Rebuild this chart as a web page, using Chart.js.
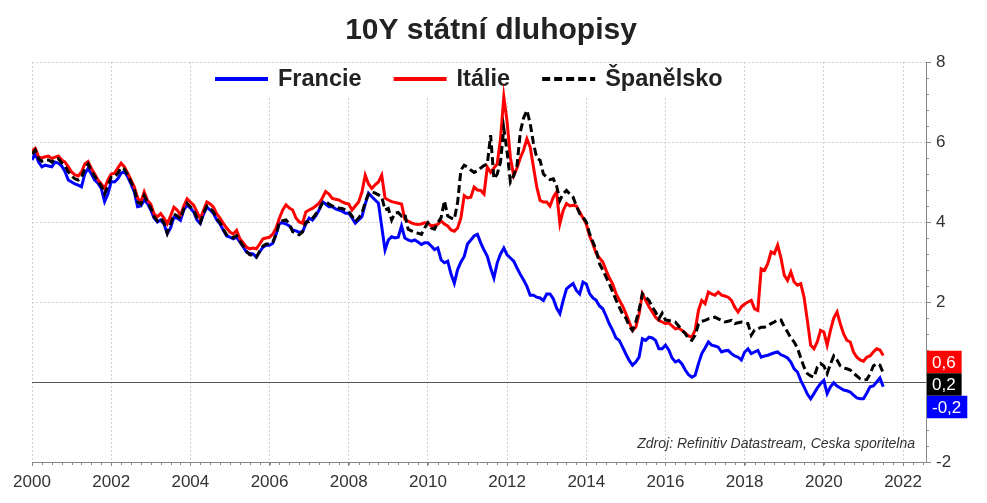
<!DOCTYPE html>
<html>
<head>
<meta charset="utf-8">
<script src="https://cdn.jsdelivr.net/npm/chart.js@4.4.1/dist/chart.umd.min.js"></script>
<style>
  body { margin: 0; background: #fff; }
</style>
</head>
<body>
<canvas id="bondChart" width="987" height="503"></canvas>
<script>
// 10Y yields, monthly values from Jan 2000
const startYear = 2000;

const france = [
  5.55, 5.72, 5.5, 5.38, 5.42, 5.4, 5.38, 5.5, 5.47, 5.4, 5.26, 5.05,      // 2000
  5.0, 4.95, 4.92, 4.88, 5.2, 5.34, 5.2, 5.05, 4.97, 4.84, 4.51, 4.7,      // 2001
  5.01, 5.0, 5.08, 5.22, 5.26, 5.13, 4.95, 4.75, 4.38, 4.4, 4.55, 4.46,    // 2002
  4.3, 4.1, 4.0, 4.05, 3.95, 3.71, 3.85, 4.12, 4.1, 4.04, 4.3, 4.42,       // 2003
  4.35, 4.25, 4.05, 3.96, 4.2, 4.37, 4.3, 4.21, 4.05, 3.95, 3.79, 3.65,    // 2004
  3.62, 3.58, 3.62, 3.5, 3.38, 3.25, 3.21, 3.2, 3.12, 3.25, 3.37, 3.42,    // 2005
  3.42, 3.47, 3.7, 3.97, 3.98, 3.95, 3.9, 3.8, 3.78, 3.74, 3.76, 3.95,     // 2006
  4.1, 4.05, 4.15, 4.3, 4.51, 4.45, 4.38, 4.38, 4.33, 4.3, 4.27, 4.22,     // 2007
  4.22, 4.1, 3.97, 4.05, 4.13, 4.45, 4.72, 4.63, 4.55, 4.47, 3.88, 3.3,    // 2008
  3.55, 3.63, 3.6, 3.62, 3.9, 3.6, 3.55, 3.52, 3.55, 3.5, 3.44, 3.48,      // 2009
  3.48, 3.4, 3.31, 3.35, 3.05, 2.98, 3.02, 2.7, 2.47, 2.81, 3.0, 3.14,     // 2010
  3.45, 3.55, 3.65, 3.69, 3.48, 3.3, 3.14, 2.85, 2.6, 2.98, 3.2, 3.35,     // 2011
  3.18, 3.1, 3.02, 2.85, 2.69, 2.55, 2.39, 2.17, 2.17, 2.12, 2.1, 2.04,    // 2012
  2.2, 2.2, 2.08, 1.85, 1.71, 2.04, 2.33, 2.4, 2.46, 2.29, 2.2, 2.5,       // 2013
  2.45, 2.21, 2.1, 2.04, 1.9, 1.83, 1.65, 1.45, 1.29, 1.1, 1.04, 0.87,     // 2014
  0.7, 0.54, 0.42, 0.5, 0.62, 1.08, 1.04, 1.12, 1.1, 1.04, 0.83, 0.83,     // 2015
  0.92, 0.8, 0.6, 0.5, 0.54, 0.45, 0.3, 0.18, 0.12, 0.17, 0.46, 0.71,      // 2016
  0.85, 1.0, 0.92, 0.9, 0.87, 0.75, 0.78, 0.79, 0.71, 0.65, 0.62, 0.55,    // 2017
  0.75, 0.83, 0.71, 0.75, 0.79, 0.62, 0.65, 0.67, 0.7, 0.73, 0.75, 0.68,   // 2018
  0.65, 0.6, 0.5, 0.33, 0.25, 0.04, -0.12, -0.3, -0.42, -0.29, -0.15, -0.04, // 2019
  0.04, -0.29, -0.12, -0.02, -0.1, -0.15, -0.2, -0.22, -0.25, -0.33, -0.4, -0.42, // 2020
  -0.42, -0.28, -0.12, -0.1, 0.0, 0.1, -0.12                              // 2021
];

const italy = [
  5.78, 5.84, 5.63, 5.6, 5.63, 5.65, 5.59, 5.62, 5.65, 5.55, 5.5, 5.38,    // 2000
  5.25, 5.18, 5.15, 5.25, 5.45, 5.51, 5.34, 5.2, 5.05, 4.95, 4.84, 5.05,   // 2001
  5.2, 5.22, 5.35, 5.47, 5.38, 5.22, 5.05, 4.88, 4.6, 4.5, 4.75, 4.54,     // 2002
  4.45, 4.2, 4.13, 4.21, 4.1, 3.96, 4.15, 4.37, 4.3, 4.17, 4.4, 4.58,      // 2003
  4.5, 4.42, 4.25, 4.08, 4.3, 4.5, 4.45, 4.37, 4.2, 4.1, 3.96, 3.85,       // 2004
  3.75, 3.7, 3.79, 3.58, 3.48, 3.37, 3.33, 3.35, 3.33, 3.45, 3.58, 3.6,    // 2005
  3.62, 3.7, 3.85, 4.1, 4.3, 4.43, 4.35, 4.3, 4.1, 4.0, 3.97, 4.25,        // 2006
  4.3, 4.34, 4.4, 4.47, 4.6, 4.76, 4.7, 4.59, 4.57, 4.55, 4.5, 4.47,       // 2007
  4.45, 4.3, 4.4, 4.5, 4.75, 5.17, 4.95, 4.84, 4.93, 5.0, 5.17, 4.6,       // 2008
  4.55, 4.51, 4.49, 4.47, 4.45, 4.07, 4.02, 3.98, 3.95, 3.94, 3.95, 3.98,  // 2009
  3.98, 3.9, 3.92, 3.94, 4.03, 3.95, 3.9, 3.8, 3.77, 3.85, 4.1, 4.66,      // 2010
  4.6, 4.62, 4.87, 4.8, 4.79, 4.7, 5.37, 5.24, 5.35, 5.45, 6.08, 7.13,     // 2011
  6.5, 5.6, 5.16, 5.35, 5.6, 5.8, 6.08, 5.87, 5.37, 4.87, 4.54, 4.5,       // 2012
  4.5, 4.4, 4.62, 4.75, 3.96, 4.29, 4.46, 4.4, 4.42, 4.4, 4.25, 4.1,       // 2013
  3.95, 3.65, 3.45, 3.21, 3.1, 3.0, 2.79, 2.6, 2.45, 2.21, 2.05, 1.9,      // 2014
  1.71, 1.5, 1.29, 1.37, 1.7, 2.21, 2.04, 1.88, 1.75, 1.62, 1.54, 1.5,     // 2015
  1.46, 1.48, 1.4, 1.33, 1.35, 1.29, 1.22, 1.15, 1.12, 1.3, 1.79, 2.04,    // 2016
  1.96, 2.25, 2.2, 2.17, 2.25, 2.17, 2.15, 2.12, 2.04, 1.87, 1.75, 1.88,   // 2017
  1.95, 2.0, 2.04, 1.83, 1.79, 2.83, 2.79, 2.96, 3.25, 3.21, 3.42, 3.1,    // 2018
  2.67, 2.54, 2.75, 2.5, 2.42, 2.46, 2.12, 1.54, 0.92, 0.83, 1.0, 1.29,    // 2019
  1.25, 0.92, 1.29, 1.6, 1.75, 1.45, 1.2, 1.04, 1.0, 0.75, 0.62, 0.55,     // 2020
  0.52, 0.62, 0.65, 0.75, 0.83, 0.8, 0.66                                  // 2021
];

const spain = [
  5.7, 5.8, 5.58, 5.52, 5.55, 5.55, 5.5, 5.58, 5.58, 5.48, 5.4, 5.25,      // 2000
  5.15, 5.08, 5.05, 5.1, 5.35, 5.45, 5.28, 5.14, 5.02, 4.9, 4.7, 4.9,      // 2001
  5.12, 5.12, 5.22, 5.36, 5.32, 5.18, 5.0, 4.82, 4.5, 4.45, 4.66, 4.5,     // 2002
  4.35, 4.13, 4.03, 4.1, 3.98, 3.72, 3.95, 4.2, 4.15, 4.08, 4.33, 4.47,    // 2003
  4.38, 4.3, 4.1, 3.98, 4.22, 4.4, 4.34, 4.25, 4.08, 3.98, 3.82, 3.68,     // 2004
  3.64, 3.6, 3.66, 3.52, 3.4, 3.27, 3.18, 3.17, 3.12, 3.27, 3.4, 3.45,     // 2005
  3.45, 3.5, 3.7, 4.01, 4.03, 4.05, 3.95, 3.76, 3.72, 3.68, 3.75, 4.0,     // 2006
  4.01, 4.09, 4.2, 4.3, 4.47, 4.51, 4.45, 4.4, 4.38, 4.35, 4.34, 4.3,      // 2007
  4.26, 4.15, 4.01, 4.1, 4.22, 4.5, 4.7, 4.76, 4.72, 4.68, 4.63, 4.3,      // 2008
  4.34, 4.05, 4.22, 4.24, 4.15, 4.2, 3.82, 3.78, 3.74, 3.72, 3.69, 3.85,   // 2009
  3.98, 3.85, 3.82, 3.98, 4.11, 4.53, 4.15, 4.1, 4.07, 4.49, 5.3, 5.42,    // 2010
  5.37, 5.3, 5.24, 5.28, 5.35, 5.41, 5.45, 6.17, 5.08, 5.2, 5.5, 6.34,     // 2011
  5.75, 5.0, 5.16, 5.41, 6.25, 6.6, 6.79, 6.46, 5.96, 5.6, 5.54, 5.2,      // 2012
  5.12, 5.06, 5.08, 4.9, 4.54, 4.71, 4.79, 4.7, 4.62, 4.4, 4.21, 4.12,     // 2013
  4.0, 3.71, 3.5, 3.3, 2.96, 2.8, 2.62, 2.45, 2.25, 2.05, 1.87, 1.7,       // 2014
  1.6, 1.4, 1.29, 1.5, 1.8, 2.21, 2.12, 2.04, 1.87, 1.75, 1.58, 1.72,      // 2015
  1.55, 1.54, 1.52, 1.5, 1.4, 1.3, 1.21, 1.08, 1.04, 1.17, 1.45, 1.52,     // 2016
  1.54, 1.58, 1.6, 1.62, 1.58, 1.54, 1.5, 1.52, 1.54, 1.46, 1.48, 1.5,     // 2017
  1.48, 1.46, 1.17, 1.3, 1.33, 1.37, 1.37, 1.4, 1.46, 1.5, 1.56, 1.55,     // 2018
  1.38, 1.25, 1.1, 1.0, 0.85, 0.6, 0.37, 0.21, 0.15, 0.12, 0.37, 0.46,     // 2019
  0.4, 0.21, 0.45, 0.65, 0.55, 0.4, 0.35, 0.33, 0.3, 0.22, 0.15, 0.08,     // 2020
  0.05, 0.06, 0.2, 0.4, 0.46, 0.42, 0.22                                   // 2021
];

const seriesNames = ['Francie', 'Itálie', 'Španělsko'];
const seriesColors = ['#0000ff', '#ff0000', '#000000'];
// labels in the boxes at the right edge
const endLabelText = ['-0,2', '0,6', '0,2'];
const endLabelValue = [-0.2, 0.6, 0.2];

const xTicks = [2000, 2002, 2004, 2006, 2008, 2010, 2012, 2014, 2016, 2018, 2020, 2022];
const yTicks = [-2, 0, 2, 4, 6, 8];

const titleText = '10Y státní dluhopisy';
const noteText = 'Zdroj: Refinitiv Datastream, Ceska sporitelna';

const FONT = "'Liberation Sans', Arial, sans-serif";

// month positions on the time axis
const months = france.map((_, i) => startYear + i / 12);
const toPoints = arr => arr.map((v, i) => ({ x: months[i], y: v }));

// title, legend inside the plot, minor ticks, note and end boxes
const decorations = {
  id: 'decorations',
  beforeDatasetsDraw(chart) {
    const ctx = chart.ctx;
    ctx.save();
    ctx.fillStyle = '#fff';
    ctx.fillRect(205, chart.chartArea.top + 1, 532, 34);
    let x = 215;
    const y = 79;
    ctx.font = 'bold 23.5px ' + FONT;
    ctx.textBaseline = 'middle';
    chart.data.datasets.forEach(ds => {
      ctx.strokeStyle = ds.borderColor;
      ctx.lineWidth = 4;
      ctx.setLineDash(ds.borderDash || []);
      ctx.beginPath();
      ctx.moveTo(x, y);
      ctx.lineTo(x + 53, y);
      ctx.stroke();
      ctx.setLineDash([]);
      ctx.fillStyle = '#222';
      ctx.fillText(ds.label, x + 63, y + 1);
      x += 63 + ctx.measureText(ds.label).width + 32;
    });
    ctx.restore();
  },
  afterDraw(chart) {
    const ctx = chart.ctx;
    const xs = chart.scales.x, ys = chart.scales.y;
    const area = chart.chartArea;
    ctx.save();

    // title
    ctx.font = 'bold 30px ' + FONT;
    ctx.fillStyle = '#222';
    ctx.textAlign = 'center';
    ctx.textBaseline = 'middle';
    ctx.fillText(titleText, 491, 31);

    // minor ticks: quarters on x, 0.4 on y
    ctx.strokeStyle = '#888';
    ctx.lineWidth = 1;
    ctx.beginPath();
    for (let q = 2000; q <= 2022.5; q += 0.25) {
      const px = Math.round(xs.getPixelForValue(q)) + 0.5;
      ctx.moveTo(px, area.bottom);
      ctx.lineTo(px, area.bottom + 3);
    }
    for (let v = -2; v <= 8.001; v += 0.4) {
      const py = Math.round(ys.getPixelForValue(v)) + 0.5;
      ctx.moveTo(area.right, py);
      ctx.lineTo(area.right + 3, py);
    }
    ctx.stroke();

    // source note
    ctx.font = 'italic 14px ' + FONT;
    ctx.fillStyle = '#333';
    ctx.textAlign = 'right';
    ctx.fillText(noteText, 915, 444);

    // last value boxes, stacked so they do not overlap
    const order = [0, 1, 2].sort((a, b) => endLabelValue[b] - endLabelValue[a]);
    const h = 22.5;
    let prev = -Infinity;
    ctx.font = '17px ' + FONT;
    ctx.textAlign = 'left';
    order.forEach(i => {
      let cy = ys.getPixelForValue(endLabelValue[i]) + 4;
      cy = Math.max(cy, prev + h);
      prev = cy;
      const w = ctx.measureText(endLabelText[i]).width + 11;
      ctx.fillStyle = seriesColors[i];
      ctx.fillRect(area.right + 1, cy - h / 2, w, h);
      ctx.fillStyle = '#fff';
      ctx.fillText(endLabelText[i], area.right + 6, cy + 1);
    });
    ctx.restore();
  }
};

const ctx = document.getElementById('bondChart');
new Chart(ctx, {
  type: 'line',
  data: {
    datasets: [
      { label: seriesNames[0], data: toPoints(france), borderColor: seriesColors[0], order: 3 },
      { label: seriesNames[1], data: toPoints(italy), borderColor: seriesColors[1], order: 2 },
      { label: seriesNames[2], data: toPoints(spain), borderColor: seriesColors[2], borderDash: [8, 4], order: 1 }
    ]
  },
  options: {
    responsive: false,
    animation: false,
    layout: { padding: { left: 32, right: 0, top: 62, bottom: 0 } },
    elements: {
      line: { borderWidth: 3, tension: 0, fill: false },
      point: { radius: 0, hoverRadius: 0 }
    },
    plugins: {
      legend: { display: false },
      tooltip: { enabled: false },
      title: { display: false }
    },
    scales: {
      x: {
        type: 'linear',
        min: 2000,
        max: 2022.58,
        afterBuildTicks: s => { s.ticks = xTicks.map(v => ({ value: v })); },
        afterFit: s => { s.height = 41; },
        grid: { color: '#d2d2d2', lineWidth: 1, tickLength: 4, tickColor: '#888', tickBorderDash: [] },
        border: { display: true, color: '#888', width: 1, dash: [2, 2] },
        ticks: {
          color: '#333',
          font: { family: FONT, size: 17 },
          padding: 6,
          maxRotation: 0,
          autoSkip: false,
          callback: v => String(v)
        }
      },
      y: {
        position: 'right',
        min: -2,
        max: 8,
        afterBuildTicks: s => { s.ticks = yTicks.map(v => ({ value: v })); },
        afterFit: s => { s.width = 61; },
        grid: {
          color: c => (c.tick && c.tick.value === 0 ? '#555' : '#d2d2d2'),
          lineWidth: 1,
          tickLength: 5,
          tickColor: '#888',
          tickBorderDash: []
        },
        border: {
          display: true,
          color: '#888',
          width: 1,
          dash: c => (c.tick && c.tick.value === 0 ? [] : [2, 2])
        },
        ticks: {
          color: '#333',
          font: { family: FONT, size: 17 },
          padding: 5,
          callback: v => String(v)
        }
      }
    }
  },
  plugins: [decorations]
});
</script>
</body>
</html>
